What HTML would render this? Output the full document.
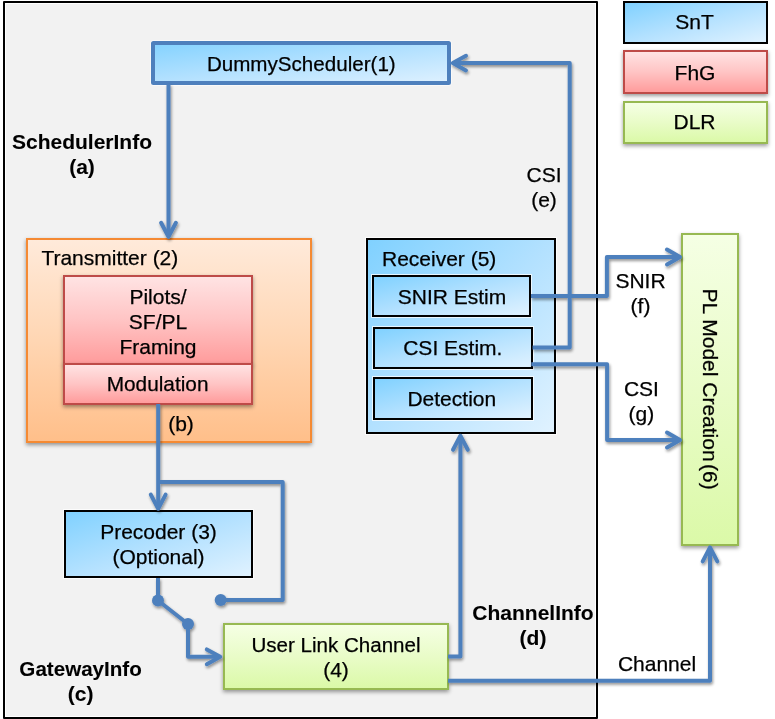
<!DOCTYPE html>
<html>
<head>
<meta charset="utf-8">
<style>
html,body{margin:0;padding:0;background:#fff;}
body{width:775px;height:719px;position:relative;overflow:hidden;font-family:"Liberation Sans",sans-serif;font-size:21px;color:#000;}
.b{position:absolute;box-sizing:border-box;}
.t{position:absolute;white-space:pre;line-height:25px;text-align:center;-webkit-text-stroke:0.25px #000;}
.bold{font-weight:700;-webkit-text-stroke:0.1px #000;}
.blue{background:linear-gradient(to bottom right,#80d1ff 0%,#b3e1ff 50%,#e0f2ff 100%);border:2px solid #000;box-shadow:0 0 0 1px rgba(255,255,255,.75);}
.red{background:linear-gradient(to bottom,#ffe3e3 0%,#ffc4c4 50%,#ff9c9c 100%);border:2px solid #be4b48;box-shadow:0 2px 4px rgba(0,0,0,.4);}
.green{background:linear-gradient(to bottom,#f5ffe4 0%,#e9fcc8 50%,#dbf9a8 100%);border:2px solid #97b952;box-shadow:0 2px 4px rgba(0,0,0,.4);}
.orange{background:linear-gradient(to bottom,#ffeada 0%,#ffd6b3 50%,#ffbf8a 100%);border:2px solid #f58a33;box-shadow:0 2px 4px rgba(0,0,0,.4);}
svg{position:absolute;left:0;top:0;}
</style>
</head>
<body>
<!-- outer frame -->
<div class="b" style="left:3px;top:1px;width:595px;height:718px;background:#f2f2f2;background-clip:content-box;padding:1px;border:2px solid #000;border-radius:1px;"></div>

<!-- legend -->
<div class="b blue" style="left:623px;top:0.5px;width:145px;height:43.5px;"></div>
<div class="b red" style="left:623px;top:50px;width:145px;height:44px;"></div>
<div class="b green" style="left:623px;top:101px;width:145px;height:43px;"></div>

<!-- scheduler -->
<div class="b" style="left:151px;top:41px;width:300px;height:44px;border:4px solid #4e80bd;border-radius:2.5px;box-shadow:0 0 0 1px rgba(255,255,255,.5);background:linear-gradient(to bottom right,#86d3ff 0%,#b3e1ff 50%,#dcf0ff 100%);"></div>

<!-- transmitter -->
<div class="b orange" style="left:26px;top:238px;width:286px;height:205px;"></div>
<div class="b red" style="left:63px;top:275px;width:190px;height:90px;"></div>
<div class="b red" style="left:63px;top:363px;width:190px;height:42px;"></div>

<!-- receiver -->
<div class="b blue" style="left:366px;top:238px;width:190px;height:196px;"></div>
<div class="b blue" style="left:372px;top:275px;width:159px;height:42px;"></div>
<div class="b blue" style="left:373px;top:327px;width:160px;height:42px;"></div>
<div class="b blue" style="left:373px;top:377px;width:160px;height:43px;"></div>

<!-- precoder -->
<div class="b blue" style="left:64px;top:510px;width:189px;height:68px;"></div>

<!-- user link channel -->
<div class="b green" style="left:223px;top:623px;width:226px;height:67px;"></div>

<!-- PL model -->
<div class="b green" style="left:681px;top:233px;width:58px;height:313px;"></div>

<!-- connectors -->
<svg width="775" height="719" viewBox="0 0 775 719">
<defs>
<filter id="sh" x="-5%" y="-5%" width="110%" height="110%">
<feGaussianBlur in="SourceAlpha" stdDeviation="1.6"/>
<feOffset dx="0.5" dy="2.2" result="o"/>
<feComponentTransfer><feFuncA type="linear" slope="0.42"/></feComponentTransfer>
<feMerge><feMergeNode/><feMergeNode in="SourceGraphic"/></feMerge>
</filter>
</defs>
<g filter="url(#sh)" fill="none" stroke="#4e80bd" stroke-width="4" stroke-linecap="round" stroke-linejoin="round">
<!-- scheduler -> transmitter -->
<path d="M168.5 84 V235" stroke-linecap="butt"/>
<path d="M161.1 222.8 L168.5 236.8 L175.9 222.8"/>
<!-- CSI (e) -->
<path d="M532.6 347.6 H569.7 V63.1 H454" stroke-linecap="butt"/>
<path d="M466 55.8 L452.8 63.1 L466 70.4"/>
<!-- SNIR (f) -->
<path d="M531 296 H606.9 V257 H679" stroke-linecap="butt"/>
<path d="M667 249.5 L680 257 L667 264.5"/>
<!-- CSI (g) -->
<path d="M531.3 364.2 H607.1 V440 H679" stroke-linecap="butt"/>
<path d="M667 432.5 L680 440 L667 447.5"/>
<!-- modulation -> precoder -->
<path d="M158.2 404 V507" stroke-linecap="butt"/>
<path d="M150.8 494.6 L158.2 508.7 L165.6 494.6"/>
<!-- bypass -->
<path d="M158.2 481.9 H282.7 V600 H220.7" stroke-linecap="butt"/>
<!-- precoder -> switch -->
<path d="M158 578 V600.5 L188 624 V656.8 H219" stroke-linecap="butt"/>
<path d="M206.8 649.4 L220.2 656.8 L206.8 664.2"/>
<!-- channel info (d) -->
<path d="M448 656.5 H460.4 V438" stroke-linecap="butt"/>
<path d="M453 449.8 L460.4 435.8 L467.8 449.8"/>
<!-- channel -->
<path d="M448 680.7 H710 V549" stroke-linecap="butt"/>
<path d="M702.7 561.4 L710 547.4 L717.3 561.4"/>
<g fill="#4e80bd" stroke="none">
<circle cx="158" cy="600.5" r="6"/>
<circle cx="188" cy="624" r="6"/>
<circle cx="220.7" cy="600" r="6"/>
</g>
</g>
</svg>

<!-- text -->
<div id="txt" style="position:absolute;left:0;top:0;width:775px;height:719px;will-change:transform;">
<div class="t" style="left:151.3px;top:51px;width:300px;font-size:20.6px;">DummyScheduler(1)</div>
<div class="t" style="left:622px;top:8.5px;width:145px;">SnT</div>
<div class="t" style="left:622.5px;top:59.5px;width:145px;">FhG</div>
<div class="t" style="left:622px;top:108.5px;width:145px;">DLR</div>
<div class="t bold" style="left:2px;top:129px;width:160px;">SchedulerInfo
(a)</div>
<div class="t" style="left:41.4px;top:245px;text-align:left;">Transmitter (2)</div>
<div class="t" style="left:63px;top:284px;width:190px;">Pilots/
SF/PL
Framing</div>
<div class="t" style="left:62.6px;top:371.3px;width:190px;font-size:20.8px;">Modulation</div>
<div class="t" style="left:161px;top:410.6px;width:40px;">(b)</div>
<div class="t" style="left:382px;top:246px;text-align:left;">Receiver (5)</div>
<div class="t" style="left:372px;top:284px;width:160px;">SNIR Estim</div>
<div class="t" style="left:372.8px;top:335px;width:160px;">CSI Estim.</div>
<div class="t" style="left:371.8px;top:386px;width:160px;">Detection</div>
<div class="t" style="left:504px;top:162.3px;width:80px;">CSI
(e)</div>
<div class="t" style="left:600.5px;top:268.3px;width:80px;">SNIR
(f)</div>
<div class="t" style="left:601.4px;top:375.5px;width:80px;">CSI
(g)</div>
<div class="t" style="left:64px;top:518.8px;width:189px;">Precoder (3)
(Optional)</div>
<div class="t" style="left:223px;top:631.5px;width:226px;font-size:20.55px;">User Link Channel
<span style="font-size:21px">(4)</span></div>
<div class="t bold" style="left:453px;top:600px;width:160px;">ChannelInfo
(d)</div>
<div class="t bold" style="left:0.6px;top:655.5px;width:160px;font-size:20.6px;">GatewayInfo
<span style="font-size:21px">(c)</span></div>
<div class="t" style="left:617px;top:651px;width:80px;">Channel</div>
<div class="t" style="left:610px;top:375.5px;width:200px;transform:rotate(90deg);transform-origin:center center;">PL Model Creation<span style="margin-left:-3.5px"> (6)</span></div>
</div>
</body>
</html>
